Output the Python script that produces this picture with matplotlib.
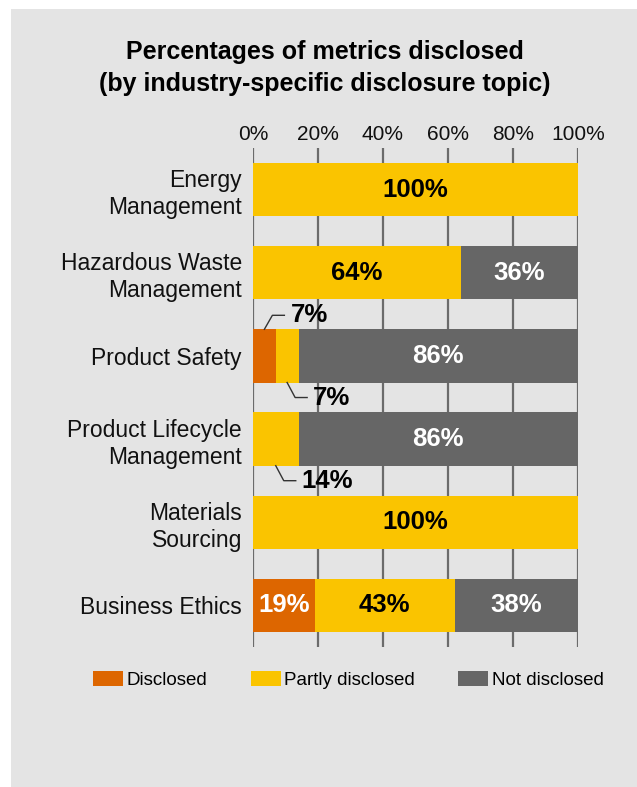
import matplotlib
matplotlib.use("Agg")
import matplotlib.pyplot as plt
import numpy as np

plt.rcParams["font.family"] = ["Liberation Sans", "DejaVu Sans"]

categories = [
    "Energy\nManagement",
    "Hazardous Waste\nManagement",
    "Product Safety",
    "Product Lifecycle\nManagement",
    "Materials\nSourcing",
    "Business Ethics",
]
disclosed = [0, 0, 7, 0, 0, 19]
partly = [100, 64, 7, 14, 100, 43]
not_disclosed = [0, 36, 86, 86, 0, 38]
series_names = ["Disclosed", "Partly disclosed", "Not disclosed"]
tick_values = [0, 20, 40, 60, 80, 100]
tick_labels = ["0%", "20%", "40%", "60%", "80%", "100%"]

colors = ["#dd6600", "#fac400", "#666666"]
text_colors = ["white", "black", "white"]
panel_color = "#e4e4e4"

W, H = 637, 787
fig = plt.figure(figsize=(W / 100, H / 100), dpi=100)
fig.patch.set_facecolor("white")

# grey backdrop panel
fig.patches.append(plt.Rectangle((11 / W, 0), 1 - 11 / W, 1 - 9 / H,
                                 transform=fig.transFigure,
                                 facecolor=panel_color, edgecolor="none", zorder=-5))

ax = fig.add_axes([253 / W, 140 / H, 325 / W, 499 / H])
ax.set_zorder(1)
ax.set_facecolor("none")
ax.set_xlim(0, 100)
ax.set_ylim(len(categories) - 0.5, -0.5)

for v in tick_values:
    ax.axvline(v, color="#6b6b6b", lw=1.6, zorder=1)

y = np.arange(len(categories))
bar_h = 0.64
left = np.zeros(len(categories))
series = [disclosed, partly, not_disclosed]
containers = []
for vals, c, name in zip(series, colors, series_names):
    vals = np.array(vals, dtype=float)
    bc = ax.barh(y, vals, left=left, height=bar_h, color=c, label=name,
                 zorder=2, linewidth=0)
    containers.append(bc)
    left = left + vals

# value labels inside the segments (small segments get leader callouts)
callouts = []
for si, (vals, tc) in enumerate(zip(series, text_colors)):
    start = np.zeros(len(categories)) if si == 0 else np.sum(series[:si], axis=0)
    for i, v in enumerate(vals):
        if v <= 0:
            continue
        cx = start[i] + v / 2
        if v < 15:
            callouts.append((si, i, cx, v))
            continue
        ax.text(cx, y[i], f"{v}%", ha="center", va="center", color=tc,
                fontsize=18.5, fontweight="bold", zorder=3)

# leader lines for narrow segments
fig.canvas.draw()
for si, i, cx, v in callouts:
    above = (si == 0 and i == 2)
    edge = y[i] - bar_h / 2 if above else y[i] + bar_h / 2
    ax_x, ax_y = ax.transData.transform((cx, edge))
    dy = 14 if above else -15
    xs = [ax_x, ax_x + 8, ax_x + 20]
    ys = [ax_y, ax_y + dy, ax_y + dy]
    fig.add_artist(plt.Line2D(xs, ys, transform=None, color="#333333", lw=1.0, zorder=5))
    fig.text((ax_x + 26) / W, (ax_y + dy) / H, f"{v}%", ha="left", va="center",
             fontsize=18.5, fontweight="bold", color="black", zorder=5)

ax.set_yticks(y)
ax.set_yticklabels(categories, fontsize=16.5, color="#111111", linespacing=1.22)
ax.set_xticks(tick_values)
ax.set_xticklabels(tick_labels, fontsize=15, color="#111111")
ax.xaxis.tick_top()
ax.tick_params(axis="both", length=0)
ax.tick_params(axis="y", pad=8)
ax.tick_params(axis="x", pad=3)
for s in ax.spines.values():
    s.set_visible(False)

fig.text(324.5 / W, 1 - 40 / H,
         "Percentages of metrics disclosed\n(by industry-specific disclosure topic)",
         ha="center", va="top", fontsize=18, fontweight="bold", linespacing=1.42)

fig.legend(handles=containers, labels=series_names, loc="center left",
           bbox_to_anchor=(76 / W, 1 - 680 / H), ncol=3, frameon=False,
           fontsize=13.5, handlelength=1.6, handleheight=0.85,
           handletextpad=0.2, columnspacing=2.3)

fig.savefig("out.png", dpi=100, facecolor=fig.get_facecolor())
